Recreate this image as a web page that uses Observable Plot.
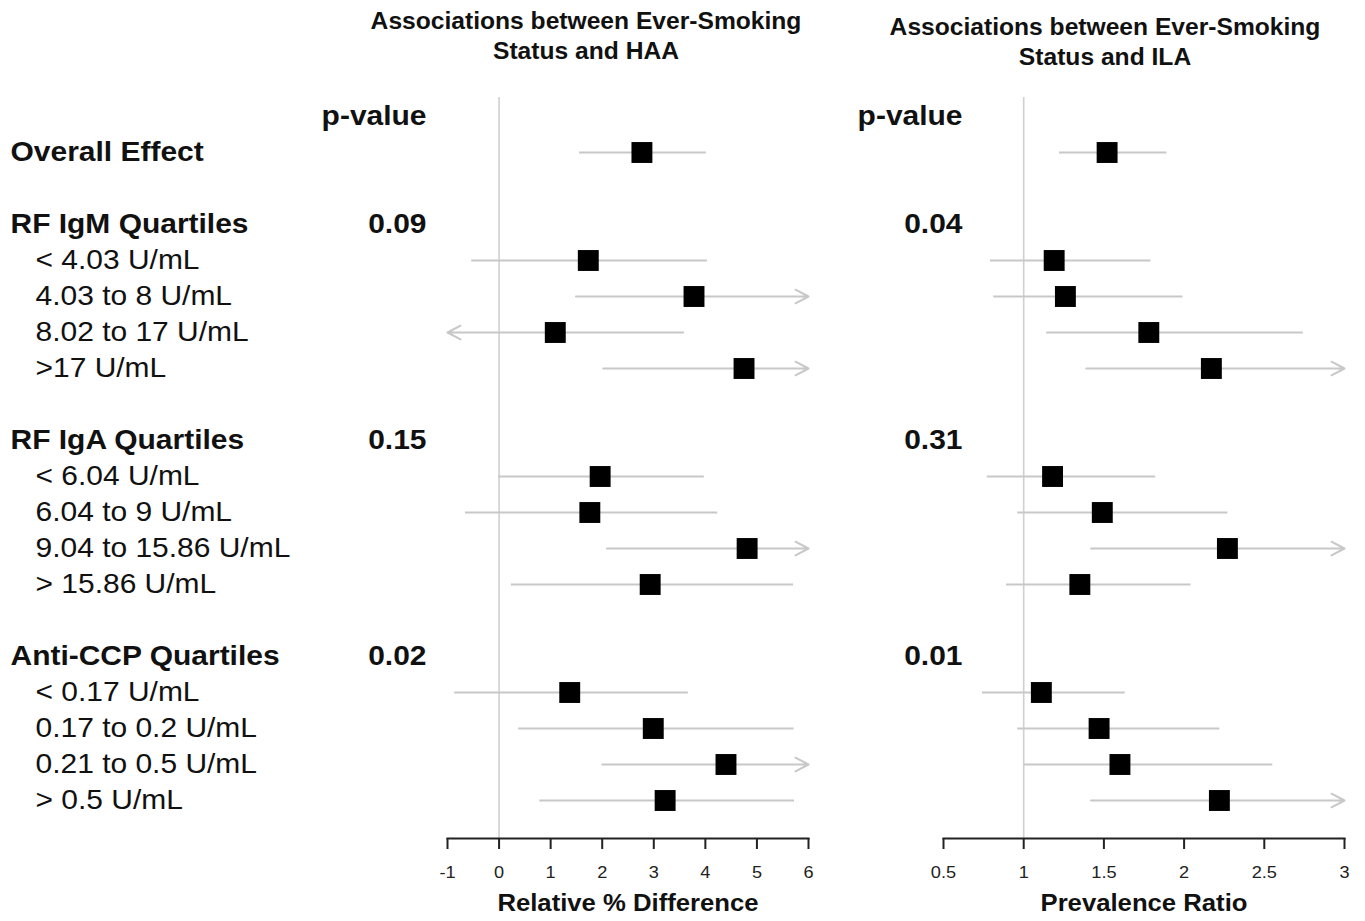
<!DOCTYPE html>
<html><head><meta charset="utf-8">
<script src="https://cdn.jsdelivr.net/npm/d3@7"></script>
<script src="https://cdn.jsdelivr.net/npm/@observablehq/plot@0.6"></script>
<style>
body{margin:0;background:#fff;}
#wrap{position:relative;width:1365px;height:921px;overflow:hidden;}
#left,#right{position:absolute;top:0;}
#left{left:0}
#right{left:830px}
svg{font-family:"Liberation Sans",Arial,Helvetica,sans-serif;}
</style></head><body>
<div id="wrap"><div id="left"></div><div id="right"></div></div>
<script>
// ---- Data ----
const rowOrder = ["p-value","Overall Effect","gap1",
  "RF IgM Quartiles","< 4.03 U/mL","4.03 to 8 U/mL","8.02 to 17 U/mL",">17 U/mL","gap2",
  "RF IgA Quartiles","< 6.04 U/mL","6.04 to 9 U/mL","9.04 to 15.86 U/mL","> 15.86 U/mL","gap3",
  "Anti-CCP Quartiles","< 0.17 U/mL","0.17 to 0.2 U/mL","0.21 to 0.5 U/mL","> 0.5 U/mL"];
const boldLabels = ["Overall Effect","RF IgM Quartiles","RF IgA Quartiles","Anti-CCP Quartiles"];
const subLabels = ["< 4.03 U/mL","4.03 to 8 U/mL","8.02 to 17 U/mL",">17 U/mL",
  "< 6.04 U/mL","6.04 to 9 U/mL","9.04 to 15.86 U/mL","> 15.86 U/mL",
  "< 0.17 U/mL","0.17 to 0.2 U/mL","0.21 to 0.5 U/mL","> 0.5 U/mL"];
const estimateRows = ["Overall Effect", ...subLabels];
const groupHeaders = ["RF IgM Quartiles","RF IgA Quartiles","Anti-CCP Quartiles"];

const haaTitle = "Associations between Ever-Smoking\nStatus and HAA";
const ilaTitle = "Associations between Ever-Smoking\nStatus and ILA";
const haaLabel = "Relative % Difference";
const ilaLabel = "Prevalence Ratio";
const pHeader = "p-value";
const haaP = ["0.09","0.15","0.02"];
const ilaP = ["0.04","0.31","0.01"];
const haaTicks = [-1,0,1,2,3,4,5,6];
const ilaTicks = [0.5,1,1.5,2,2.5,3];
const haaNull = 0;
const ilaNull = 1;

// HAA: relative % difference (values at axis limit = interval continues beyond axis)
const haaEst = [2.77, 1.73, 3.78, 1.09, 4.75, 1.96, 1.76, 4.81, 2.93, 1.37, 2.99, 4.40, 3.22];
const haaLo  = [1.55,-0.54, 1.49,-1.00, 2.02,-0.02,-0.66, 2.09, 0.23,-0.87, 0.37, 2.00, 0.78];
const haaHi  = [4.01, 4.03, 6.00, 3.57, 6.00, 3.97, 4.23, 6.00, 5.70, 3.66, 5.71, 6.00, 5.72];
// ILA: prevalence ratio
const ilaEst = [1.52, 1.19, 1.26, 1.78, 2.17, 1.18, 1.49, 2.27, 1.35, 1.11, 1.47, 1.60, 2.22];
const ilaLo  = [1.22, 0.79, 0.81, 1.14, 1.39, 0.77, 0.96, 1.42, 0.89, 0.74, 0.96, 1.00, 1.42];
const ilaHi  = [1.89, 1.79, 1.99, 2.74, 3.00, 1.82, 2.27, 3.00, 2.04, 1.63, 2.22, 2.55, 3.00];

// ---- Drawing ----
const GRAY = "#c8c8c8";
const INK = "#111";

function panel(o){
  const xmin = o.ticks[0], xmax = o.ticks[o.ticks.length-1];
  const data = estimateRows.map((row,i)=>({row, est:o.est[i], lo:o.lo[i], hi:o.hi[i]}));
  const plain = data.filter(d=>d.lo>xmin && d.hi<xmax);
  const toRight = data.filter(d=>d.hi>=xmax);
  const toLeft = data.filter(d=>d.lo<=xmin);
  const marks = [
    Plot.ruleX([o.nullValue], {stroke:"#d0d0d0", strokeWidth:1.6}),
    Plot.link(plain, {x1:"lo", x2:"hi", y1:"row", y2:"row", stroke:GRAY, strokeWidth:2}),
    Plot.arrow(toRight, {x1:"lo", x2:"hi", y1:"row", y2:"row", stroke:GRAY, strokeWidth:2, headLength:11, headAngle:55}),
    Plot.arrow(toLeft, {x1:"hi", x2:"lo", y1:"row", y2:"row", stroke:GRAY, strokeWidth:2, headLength:11, headAngle:55}),
    Plot.dot(data, {x:"est", y:"row", symbol:"square", r:11.8, fill:"#000", stroke:"none"}),
    Plot.frame({anchor:"bottom", stroke:"#222", strokeWidth:2}),
    Plot.axisX({ticks:o.ticks, tickFormat:()=>"", tickSize:11, stroke:"#222", strokeWidth:2, label:null}),
    Plot.text(o.ticks, {x:d=>d, text:d=>String(d), frameAnchor:"bottom", lineAnchor:"middle", dy:34, fontSize:17, fill:"#222"}),
    Plot.text([o.xlabel], {text:d=>d, frameAnchor:"bottom", lineAnchor:"middle", dy:65, fontSize:24, fontWeight:"bold", fill:INK}),
    Plot.text([o.title], {text:d=>d, frameAnchor:"top", lineAnchor:"top", dx:o.titleDx, dy:o.titleDy, fontSize:23, fontWeight:"bold", lineHeight:1.3, fill:INK}),
    Plot.text([pHeader], {y:d=>d, text:d=>d, frameAnchor:"left", textAnchor:"end", dx:o.pDx, fontSize:28, fontWeight:"bold", fill:INK}),
    Plot.text(groupHeaders, {y:d=>d, text:(d,i)=>o.pvals[i], frameAnchor:"left", textAnchor:"end", dx:o.pDx, fontSize:28, fontWeight:"bold", fill:INK})
  ];
  if (o.showLabels){
    marks.push(
      Plot.text(boldLabels, {y:d=>d, text:d=>d, frameAnchor:"left", textAnchor:"start", dx:-437, fontSize:28, fontWeight:"bold", fill:INK}),
      Plot.text(subLabels, {y:d=>d, text:d=>d, frameAnchor:"left", textAnchor:"start", dx:-412, fontSize:28, fill:INK})
    );
  }
  return Plot.plot({
    width:o.width, height:921,
    marginLeft:o.marginLeft, marginRight:o.marginRight, marginTop:97, marginBottom:83,
    x:{domain:[xmin,xmax]},
    y:{type:"point", domain:rowOrder, range:[114,802], padding:0, axis:null},
    style:{fontFamily:'"Liberation Sans",Arial,Helvetica,sans-serif', background:"#fff", overflow:"visible"},
    marks
  });
}

function stretch(svg, f){
  svg.querySelectorAll("text").forEach(t=>{
    const spans = t.querySelectorAll("tspan");
    const els = spans.length ? Array.from(spans) : [t];
    els.forEach(e=>{
      const w = e.getComputedTextLength();
      if (w>0){ e.setAttribute("textLength",(w*f).toFixed(1)); e.setAttribute("lengthAdjust","spacingAndGlyphs"); }
    });
  });
}

const left = panel({est:haaEst, lo:haaLo, hi:haaHi, ticks:haaTicks, nullValue:haaNull, pvals:haaP,
  title:haaTitle, xlabel:haaLabel, width:830, marginLeft:447, marginRight:22, showLabels:true,
  pDx:-21, titleDx:-42, titleDy:-90});
const right = panel({est:ilaEst, lo:ilaLo, hi:ilaHi, ticks:ilaTicks, nullValue:ilaNull, pvals:ilaP,
  title:ilaTitle, xlabel:ilaLabel, width:535, marginLeft:113, marginRight:21, showLabels:false,
  pDx:19, titleDx:-39, titleDy:-84});
document.getElementById("left").appendChild(left);
document.getElementById("right").appendChild(right);
stretch(left, 1.07);
stretch(right, 1.07);
</script>
</body></html>
